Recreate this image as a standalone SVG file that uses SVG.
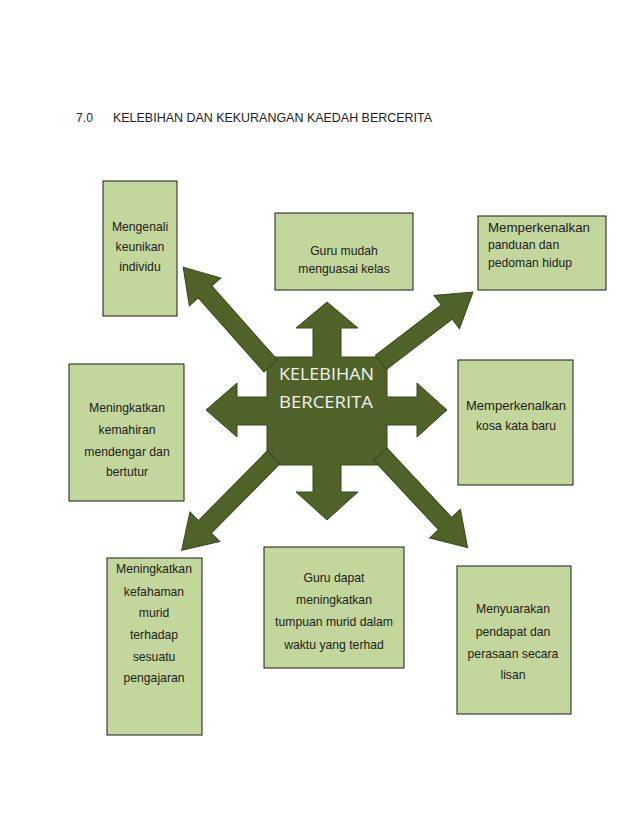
<svg xmlns="http://www.w3.org/2000/svg" width="638" height="826" viewBox="0 0 638 826">
<style>
.box{fill:#c3d69b;stroke:#1a1a1a;stroke-width:1}
.t{font-family:"Liberation Sans",Arial,sans-serif;font-size:12.2px;fill:#222;text-anchor:middle}
.tl{font-family:"Liberation Sans",Arial,sans-serif;font-size:12.2px;fill:#222}
.arr{fill:#4f6228;stroke:#3a481c;stroke-width:1}
.ct{font-family:"Open Sans","DejaVu Sans",sans-serif;font-size:16px;fill:#f2f2f2}
</style>
<rect width="638" height="826" fill="#fff"/>
<g id="title">
<text x="76" y="122" class="tl" font-size="11.5">7.0</text>
<text x="113" y="122" class="tl" font-size="11.5" textLength="319" lengthAdjust="spacingAndGlyphs">KELEBIHAN DAN KEKURANGAN KAEDAH BERCERITA</text>
</g>
<g id="center">
<path class="arr" d="M267,357 L313,357 L313,328 L296,328 L327,302 L358,328 L341,328 L341,357 L387,357 L387,397 L417,397 L417,383 L447,410 L417,437 L417,425 L387,425 L387,465 L341,465 L341,492 L358,492 L327,520 L296,492 L313,492 L313,465 L267,465 L267,425 L237,425 L237,437 L206,410 L237,383 L237,397 L267,397 Z"/>
</g>
<g id="connectors">
<polygon class="arr" transform="translate(268,363) rotate(228.5)" points="-4,-9 95,-9 95,-21 128,0 95,21 95,9 -4,9"/>
<polygon class="arr" transform="translate(384,360) rotate(-37.4)" points="-4,-9 79,-9 79,-21 112,0 79,21 79,9 -4,9"/>
<polygon class="arr" transform="translate(271,460) rotate(134.7)" points="-4,-9 94,-9 94,-21 127,0 94,21 94,9 -4,9"/>
<polygon class="arr" transform="translate(383,457) rotate(47)" points="-4,-9 91,-9 91,-21 124,0 91,21 91,9 -4,9"/>
</g>
<g id="center-label">
<text x="279" y="380" class="ct" textLength="95" lengthAdjust="spacingAndGlyphs">KELEBIHAN</text>
<text x="279" y="408" class="ct" textLength="94" lengthAdjust="spacingAndGlyphs">BERCERITA</text>
</g>
<g id="n1">
<rect class="box" x="103" y="181" width="74" height="135"/>
<text class="t" x="140" y="231">Mengenali</text>
<text class="t" x="140" y="251">keunikan</text>
<text class="t" x="140" y="271">individu</text>
</g>
<g id="n2">
<rect class="box" x="275" y="213" width="138" height="77"/>
<text class="t" x="344" y="255">Guru mudah</text>
<text class="t" x="344" y="273">menguasai kelas</text>
</g>
<g id="n3">
<rect class="box" x="478" y="216" width="128" height="74"/>
<text class="tl" x="488" y="232" textLength="102" lengthAdjust="spacingAndGlyphs">Memperkenalkan</text>
<text class="tl" x="488" y="249">panduan dan</text>
<text class="tl" x="488" y="267">pedoman hidup</text>
</g>
<g id="n4">
<rect class="box" x="69" y="364" width="115" height="137"/>
<text class="t" x="127" y="412">Meningkatkan</text>
<text class="t" x="127" y="434">kemahiran</text>
<text class="t" x="127" y="456">mendengar dan</text>
<text class="t" x="127" y="476">bertutur</text>
</g>
<g id="n5">
<rect class="box" x="458" y="360" width="115" height="125"/>
<text class="t" x="516" y="410" textLength="100" lengthAdjust="spacingAndGlyphs">Memperkenalkan</text>
<text class="t" x="516" y="430">kosa kata baru</text>
</g>
<g id="n6">
<rect class="box" x="107" y="558" width="95" height="177"/>
<text class="t" x="154" y="573">Meningkatkan</text>
<text class="t" x="154" y="596">kefahaman</text>
<text class="t" x="154" y="617">murid</text>
<text class="t" x="154" y="639">terhadap</text>
<text class="t" x="154" y="661">sesuatu</text>
<text class="t" x="154" y="682">pengajaran</text>
</g>
<g id="n7">
<rect class="box" x="264" y="547" width="140" height="121"/>
<text class="t" x="334" y="582">Guru dapat</text>
<text class="t" x="334" y="604">meningkatkan</text>
<text class="t" x="334" y="626">tumpuan murid dalam</text>
<text class="t" x="334" y="649">waktu yang terhad</text>
</g>
<g id="n8">
<rect class="box" x="457" y="566" width="114" height="148"/>
<text class="t" x="513" y="613">Menyuarakan</text>
<text class="t" x="513" y="636">pendapat dan</text>
<text class="t" x="513" y="658">perasaan secara</text>
<text class="t" x="513" y="679">lisan</text>
</g>
</svg>
